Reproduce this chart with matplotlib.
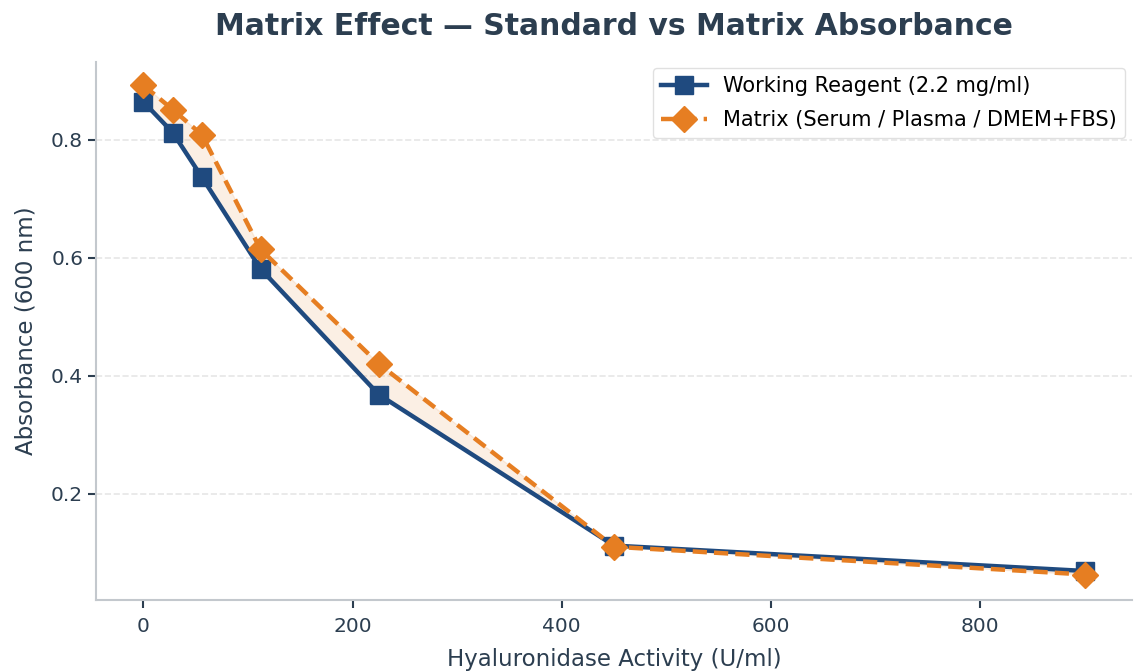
import matplotlib
matplotlib.use("Agg")
import matplotlib.pyplot as plt

# Hyaluronidase activity (U/ml) and absorbance readings at 600 nm
activity = [0, 28, 56, 112, 225, 450, 900]
working_reagent = [0.864, 0.812, 0.736, 0.581, 0.368, 0.112, 0.069]
matrix = [0.892, 0.851, 0.808, 0.614, 0.420, 0.110, 0.063]

NAVY = "#1f4a7f"
ORANGE = "#e67e22"
TEXT = "#2c3e50"

fig, ax = plt.subplots(figsize=(11.34, 6.71), dpi=100)

ax.fill_between(activity, working_reagent, matrix, color=ORANGE, alpha=0.12, zorder=1)
ax.plot(activity, working_reagent, color=NAVY, linewidth=3.2, marker="s",
        markersize=13, label="Working Reagent (2.2 mg/ml)", zorder=3)
ax.plot(activity, matrix, color=ORANGE, linewidth=3.2, linestyle="--", dashes=(3.2, 1.6),
        marker="D", markersize=13, label="Matrix (Serum / Plasma / DMEM+FBS)", zorder=4)

ax.set_title("Matrix Effect — Standard vs Matrix Absorbance", fontsize=21.5,
             fontweight="bold", color=TEXT, pad=19)
ax.set_xlabel("Hyaluronidase Activity (U/ml)", fontsize=16.5, color=TEXT, labelpad=9)
ax.set_ylabel("Absorbance (600 nm)", fontsize=16.5, color=TEXT, labelpad=10)

ax.set_xlim(-45, 945)
ax.set_ylim(0.02, 0.932)
ax.set_xticks([0, 200, 400, 600, 800])
ax.set_yticks([0.2, 0.4, 0.6, 0.8])
ax.tick_params(colors=TEXT, labelsize=14.5, length=6, width=1.5)
ax.tick_params(axis="x", pad=6)
for t in ax.get_xticklines() + ax.get_yticklines():
    t.set_color("#5a6570")

ax.grid(axis="y", linestyle="--", color="#e6e6e6", linewidth=1.2)
ax.set_axisbelow(True)
for side in ("top", "right"):
    ax.spines[side].set_visible(False)
for side in ("left", "bottom"):
    ax.spines[side].set_color("#c3c8cd")
    ax.spines[side].set_linewidth(1.5)

leg = ax.legend(loc="upper right", fontsize=15, frameon=True, handlelength=2.2,
                borderaxespad=0.3, labelspacing=0.65)
leg.get_frame().set_edgecolor("#d9d9d9")

fig.subplots_adjust(left=0.085, right=0.998, top=0.908, bottom=0.106)
fig.savefig("out.png", dpi=100)
